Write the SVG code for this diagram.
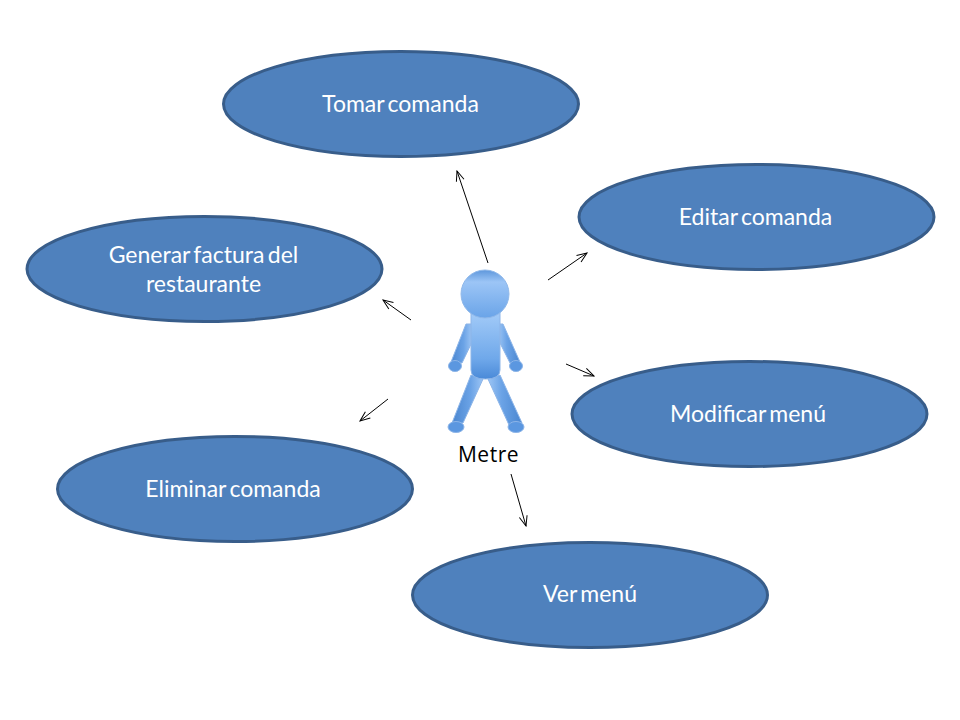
<svg xmlns="http://www.w3.org/2000/svg" width="960" height="720" viewBox="0 0 960 720">
<style>
.uc{fill:#4f81bd;stroke:#385d8a;stroke-width:3}
.t{font-family:"Lato","Open Sans","Liberation Sans",sans-serif;font-size:23px;word-spacing:-2.500px;fill:#fff;text-anchor:middle}
.c{stroke:#000;stroke-width:1;fill:none;marker-end:url(#a)}
.p{stroke:#8db5e8;stroke-width:1}
</style>
<defs>
<marker id="a" viewBox="0 0 12 10" refX="11" refY="5" markerWidth="12" markerHeight="10" markerUnits="userSpaceOnUse" orient="auto"><path d="M1 1L11 5L1 9" fill="none" stroke="#000" stroke-width="1"/></marker>
<linearGradient id="limb" x1="0" y1="0" x2="1" y2="0"><stop offset="0" stop-color="#4a86d0"/><stop offset=".6" stop-color="#6ba3e6"/><stop offset="1" stop-color="#9cc5f5"/></linearGradient>
<linearGradient id="limb2" x1="0" y1="0" x2="1" y2="0"><stop offset="0" stop-color="#9cc5f5"/><stop offset=".4" stop-color="#6ba3e6"/><stop offset="1" stop-color="#4a86d0"/></linearGradient>
<linearGradient id="body" x1="0" y1="0" x2="0" y2="1"><stop offset="0" stop-color="#a3cbf8"/><stop offset=".7" stop-color="#6fa8ea"/><stop offset="1" stop-color="#4a8ad8"/></linearGradient>
<linearGradient id="head" x1="0" y1="0" x2="0" y2="1"><stop offset="0" stop-color="#5e97dc"/><stop offset=".25" stop-color="#9cc5f6"/><stop offset="1" stop-color="#6aa4e8"/></linearGradient>
</defs>
<g id="connectors">
<line class="c" x1="488" y1="263" x2="457" y2="171"/>
<line class="c" x1="548" y1="280" x2="587" y2="253"/>
<line class="c" x1="566" y1="364" x2="594" y2="376"/>
<line class="c" x1="511" y1="474" x2="526" y2="526"/>
<line class="c" x1="388" y1="399" x2="360" y2="421"/>
<line class="c" x1="411" y1="320" x2="383" y2="300"/>
</g>
<g id="node-tomar"><ellipse class="uc" cx="401" cy="104" rx="177.500" ry="52.500"/><text class="t" x="400.500" y="112">Tomar comanda</text></g>
<g id="node-editar"><ellipse class="uc" cx="756.500" cy="217" rx="177.500" ry="52.500"/><text class="t" x="755.500" y="225">Editar comanda</text></g>
<g id="node-generar"><ellipse class="uc" cx="204.500" cy="269" rx="177.500" ry="52.500"/><text class="t" x="203.500" y="263">Generar factura del</text><text class="t" x="203.500" y="292">restaurante</text></g>
<g id="node-modificar"><ellipse class="uc" cx="749.500" cy="414" rx="177.500" ry="52.500"/><text class="t" x="748" y="422">Modificar menú</text></g>
<g id="node-eliminar"><ellipse class="uc" cx="235" cy="489" rx="177.500" ry="52.500"/><text class="t" x="233" y="497">Eliminar comanda</text></g>
<g id="node-ver"><ellipse class="uc" cx="590" cy="595" rx="177.500" ry="52.500"/><text class="t" x="590" y="602">Ver menú</text></g>
<g id="actor-metre">
<path class="p" fill="url(#limb)" d="M466 324L472 324L472 342L462 363L451 362Z"/>
<path class="p" fill="url(#limb2)" d="M498 324L503 324L520 362L510 363L500 343Z"/>
<ellipse class="p" fill="#5b97e0" cx="455" cy="366" rx="6.500" ry="5.500"/>
<ellipse class="p" fill="#5b97e0" cx="516" cy="366" rx="6.500" ry="5.500"/>
<path class="p" fill="url(#limb)" d="M471 375L483 379L463 423L452 423Z"/>
<path class="p" fill="url(#limb2)" d="M488 379L500 375L522 423L509 425Z"/>
<ellipse class="p" fill="#5b97e0" cx="456" cy="427" rx="8" ry="5.500"/>
<ellipse class="p" fill="#5b97e0" cx="516" cy="427" rx="8" ry="5.500"/>
<path class="p" fill="url(#body)" d="M471 312H500V370Q500 379 485.500 379Q471 379 471 370Z"/>
<circle cx="485" cy="294" r="24" fill="url(#head)" stroke="#8fb8ea" stroke-width="1"/>
<text x="488.500" y="462" font-family="'Open Sans','DejaVu Sans',sans-serif" font-size="21" letter-spacing="0.500" fill="#000" text-anchor="middle">Metre</text>
</g>
</svg>
